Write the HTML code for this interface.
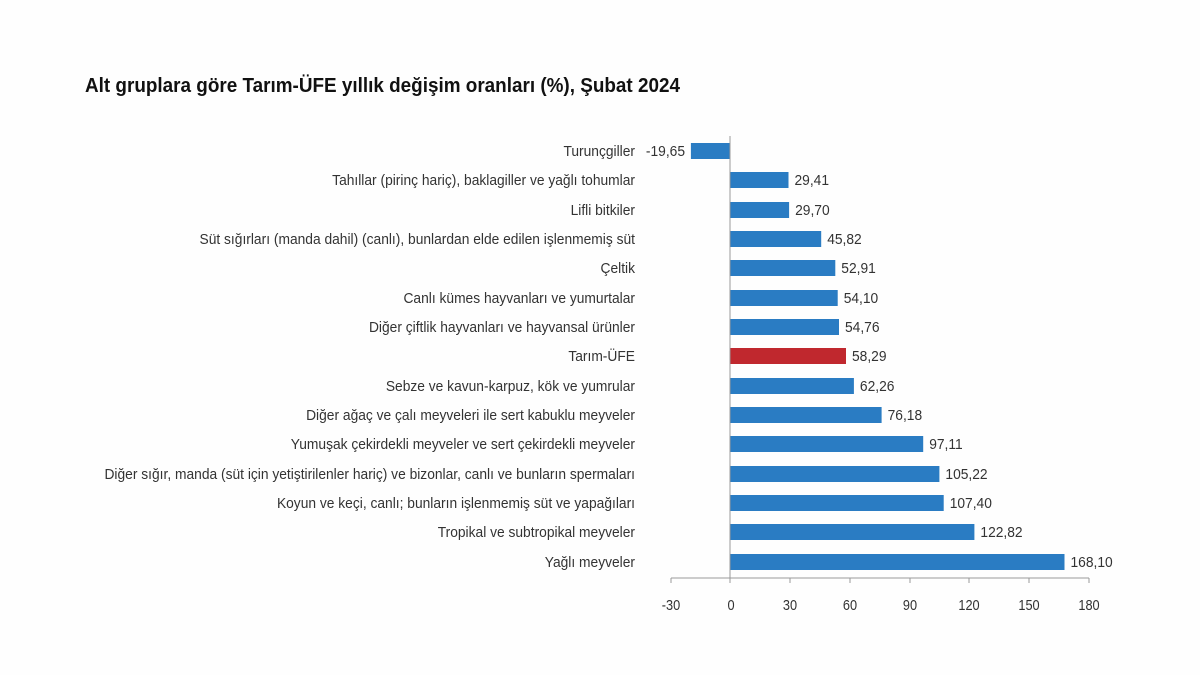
<!DOCTYPE html>
<html><head><meta charset="utf-8"><style>
html,body{margin:0;padding:0;background:#fff;}
svg{display:block;font-family:"Liberation Sans",sans-serif;}
</style></head><body>
<svg width="1200" height="675" viewBox="0 0 1200 675" xmlns="http://www.w3.org/2000/svg">
<rect width="1200" height="675" fill="#fefefe"/>
<text x="85" y="92" font-size="20" font-weight="bold" fill="#111" textLength="595" lengthAdjust="spacingAndGlyphs">Alt gruplara göre Tarım-ÜFE yıllık değişim oranları (%), Şubat 2024</text>
<g fill="#2a7cc3">
<rect x="690.9" y="143" width="39.1" height="16"/>
<rect x="730" y="172" width="58.5" height="16"/>
<rect x="730" y="202" width="59.1" height="16"/>
<rect x="730" y="231" width="91.2" height="16"/>
<rect x="730" y="260" width="105.3" height="16"/>
<rect x="730" y="290" width="107.7" height="16"/>
<rect x="730" y="319" width="109.0" height="16"/>
<rect x="730" y="348" width="116.0" height="16" fill="#c0282e"/>
<rect x="730" y="378" width="123.9" height="16"/>
<rect x="730" y="407" width="151.6" height="16"/>
<rect x="730" y="436" width="193.2" height="16"/>
<rect x="730" y="466" width="209.4" height="16"/>
<rect x="730" y="495" width="213.7" height="16"/>
<rect x="730" y="524" width="244.4" height="16"/>
<rect x="730" y="554" width="334.5" height="16"/>
</g>
<g font-size="15" fill="#333" text-anchor="end">
<text transform="translate(635,156) scale(0.92,1)">Turunçgiller</text>
<text transform="translate(635,185) scale(0.92,1)">Tahıllar (pirinç hariç), baklagiller ve yağlı tohumlar</text>
<text transform="translate(635,215) scale(0.92,1)">Lifli bitkiler</text>
<text transform="translate(635,244) scale(0.92,1)">Süt sığırları (manda dahil) (canlı), bunlardan elde edilen işlenmemiş süt</text>
<text transform="translate(635,273) scale(0.92,1)">Çeltik</text>
<text transform="translate(635,303) scale(0.92,1)">Canlı kümes hayvanları ve yumurtalar</text>
<text transform="translate(635,332) scale(0.92,1)">Diğer çiftlik hayvanları ve hayvansal ürünler</text>
<text transform="translate(635,361) scale(0.92,1)">Tarım-ÜFE</text>
<text transform="translate(635,391) scale(0.92,1)">Sebze ve kavun-karpuz, kök ve yumrular</text>
<text transform="translate(635,420) scale(0.92,1)">Diğer ağaç ve çalı meyveleri ile sert kabuklu meyveler</text>
<text transform="translate(635,449) scale(0.92,1)">Yumuşak çekirdekli meyveler ve sert çekirdekli meyveler</text>
<text transform="translate(635,479) scale(0.92,1)">Diğer sığır, manda (süt için yetiştirilenler hariç) ve bizonlar, canlı ve bunların spermaları</text>
<text transform="translate(635,508) scale(0.92,1)">Koyun ve keçi, canlı; bunların işlenmemiş süt ve yapağıları</text>
<text transform="translate(635,537) scale(0.92,1)">Tropikal ve subtropikal meyveler</text>
<text transform="translate(635,567) scale(0.92,1)">Yağlı meyveler</text>
<text transform="translate(685,156) scale(0.92,1)">-19,65</text>
</g>
<g font-size="15" fill="#333">
<text transform="translate(794.5,185) scale(0.92,1)">29,41</text>
<text transform="translate(795.1,215) scale(0.92,1)">29,70</text>
<text transform="translate(827.2,244) scale(0.92,1)">45,82</text>
<text transform="translate(841.3,273) scale(0.92,1)">52,91</text>
<text transform="translate(843.7,303) scale(0.92,1)">54,10</text>
<text transform="translate(845,332) scale(0.92,1)">54,76</text>
<text transform="translate(852,361) scale(0.92,1)">58,29</text>
<text transform="translate(859.9,391) scale(0.92,1)">62,26</text>
<text transform="translate(887.6,420) scale(0.92,1)">76,18</text>
<text transform="translate(929.2,449) scale(0.92,1)">97,11</text>
<text transform="translate(945.4,479) scale(0.92,1)">105,22</text>
<text transform="translate(949.7,508) scale(0.92,1)">107,40</text>
<text transform="translate(980.4,537) scale(0.92,1)">122,82</text>
<text transform="translate(1070.5,567) scale(0.92,1)">168,10</text>
</g>
<line x1="730" y1="136" x2="730" y2="578" stroke="#999" stroke-width="1"/>
<line x1="671" y1="578" x2="1089" y2="578" stroke="#999" stroke-width="1"/>
<g stroke="#999" stroke-width="1">
<line x1="671" y1="578" x2="671" y2="583"/><line x1="730" y1="578" x2="730" y2="583"/>
<line x1="790" y1="578" x2="790" y2="583"/><line x1="850" y1="578" x2="850" y2="583"/>
<line x1="910" y1="578" x2="910" y2="583"/><line x1="969" y1="578" x2="969" y2="583"/>
<line x1="1029" y1="578" x2="1029" y2="583"/><line x1="1089" y1="578" x2="1089" y2="583"/>
</g>
<g font-size="15" fill="#333" text-anchor="middle">
<text transform="translate(671,610) scale(0.85,1)">-30</text><text transform="translate(731,610) scale(0.85,1)">0</text><text transform="translate(790,610) scale(0.85,1)">30</text><text transform="translate(850,610) scale(0.85,1)">60</text><text transform="translate(910,610) scale(0.85,1)">90</text><text transform="translate(969,610) scale(0.85,1)">120</text><text transform="translate(1029,610) scale(0.85,1)">150</text><text transform="translate(1089,610) scale(0.85,1)">180</text>
</g>
</svg>
</body></html>
